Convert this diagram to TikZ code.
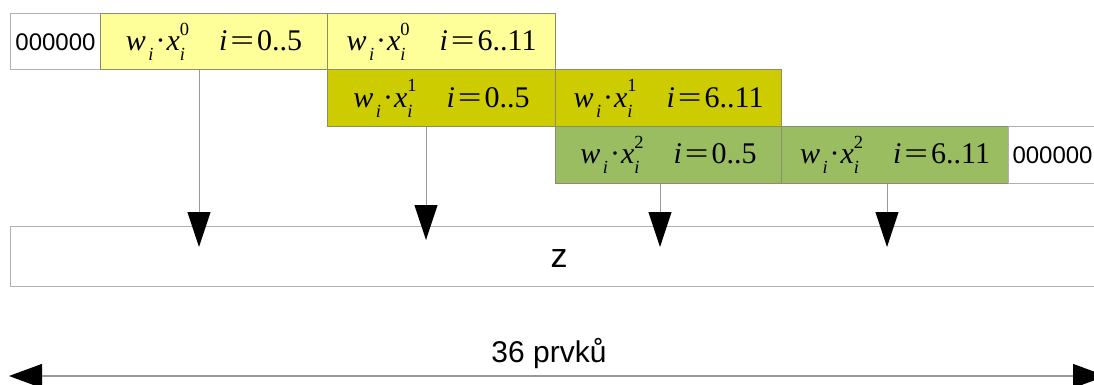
\documentclass[tikz,border=0pt]{standalone}
\usepackage{fontspec}
\setmainfont{Liberation Serif}
\newfontfamily\arial{Liberation Sans}
\usetikzlibrary{arrows.meta}
\definecolor{pale}{HTML}{FFFF99}
\definecolor{olivefill}{HTML}{CCCC00}
\definecolor{grn}{HTML}{99BD60}
\definecolor{edge}{HTML}{8C8C70}
\definecolor{wedge}{HTML}{B0B0B0}
\definecolor{conn}{HTML}{999999}
\newcommand\smallfnt{\fontsize{18.5}{18.5}\selectfont}
\newcommand\wxt[2]{\textit{w}\kern2.5pt\raisebox{-10pt}{\smallfnt\textit{i}}\kern2pt{·}\kern1pt\textit{x}\rlap{\raisebox{15.5pt}{\smallfnt #1}}\raisebox{-10pt}{\smallfnt\textit{i}}\hspace{34pt}\textit{i}\kern3pt\scalebox{1.4}[1]{=}\kern3pt#2}
\begin{document}
\begin{tikzpicture}[x=1pt,y=-1pt,
  cell/.style={draw=edge, line width=1pt, minimum height=56.5pt, anchor=north west, inner sep=0pt, font=\fontsize{30}{33}\selectfont},
  wbox/.style={draw=wedge, line width=1pt, fill=white, anchor=north west, inner sep=0pt, font=\arial\fontsize{24}{28}\selectfont},
  flow/.style={draw=conn, line width=1pt, -{Triangle[length=35pt,width=23pt,color=black]}},
  dim/.style={draw=conn, line width=1.2pt, {Triangle[length=33pt,width=24pt,color=black]}-{Triangle[length=33pt,width=24pt,color=black]}},
  lbl/.style={font=\arial\fontsize{30}{32}\selectfont, inner sep=0pt}]
\useasboundingbox (0,0) rectangle (1094,385);
% row 1
\node[wbox, minimum width=90pt, minimum height=56.5pt] (z0) at (10,13) {000000};
\node[cell, fill=pale, minimum width=227pt] (y1) at (100,13) {\wxt{0}{0..5}};
\node[cell, fill=pale, minimum width=228pt] (y2) at (327,13) {\wxt{0}{6..11}};
% row 2
\node[cell, fill=olivefill, minimum width=228pt] (o1) at (327,69.5) {\wxt{1}{0..5}};
\node[cell, fill=olivefill, minimum width=226pt] (o2) at (555,69.5) {\wxt{1}{6..11}};
% row 3
\node[cell, fill=grn, minimum width=226pt] (g1) at (555,126) {\wxt{2}{0..5}};
\node[cell, fill=grn, minimum width=227pt] (g2) at (781,126) {\wxt{2}{6..11}};
\node[wbox, minimum width=110pt, minimum height=56.5pt, text width=104pt, align=left, inner xsep=4pt] (z1) at (1008,126) {000000};
% result row
\node[wbox, minimum width=1110pt, minimum height=60pt] (zz) at (10,225.5) {};
\node[font=\arial\fontsize{34}{36}\selectfont, inner sep=0pt, anchor=base] (zl) at (559,267) {z};
% connectors
\coordinate (t1) at (199,247);
\coordinate (t2) at (426,240);
\coordinate (t3) at (660,247);
\coordinate (t4) at (887,247);
\draw[flow] (y1.south -| t1) -- (t1);
\draw[flow] (o1.south -| t2) -- (t2);
\draw[flow] (g1.south -| t3) -- (t3);
\draw[flow] (g2.south -| t4) -- (t4);
% dimension
\coordinate (dl) at (9,376);
\coordinate (dr) at (1106,376);
\draw[dim] (dl) -- (dr);
\node[lbl, anchor=base] (lab) at (549,362) {36 prvků};
\end{tikzpicture}
\end{document}
